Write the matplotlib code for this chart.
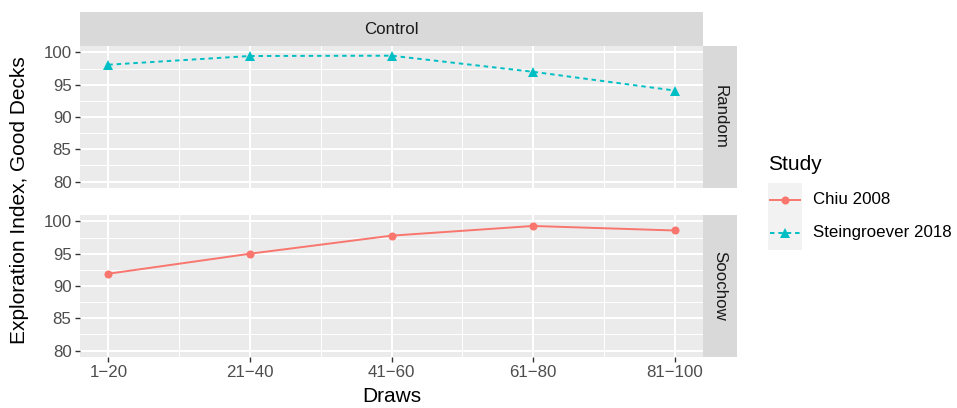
import matplotlib
matplotlib.use("Agg")
import matplotlib.pyplot as plt
from matplotlib.lines import Line2D
from matplotlib.patches import Rectangle
from matplotlib.ticker import FixedLocator

plt.rcParams['font.family'] = ['Liberation Sans', 'DejaVu Sans']

# ---- data ----
draw_labels = ["1\u221220", "21\u221240", "41\u221260", "61\u221280", "81\u2212100"]
draw_pos = [1, 2, 3, 4, 5]
steingroever_random = [98.1, 99.45, 99.5, 97.0, 94.1]
chiu_soochow = [91.9, 95.0, 97.8, 99.3, 98.6]
studies = ["Chiu 2008", "Steingroever 2018"]
rows = ["Random", "Soochow"]
col_title = "Control"
y_ticks = [80, 85, 90, 95, 100]

RED = "#F8766D"
CYAN = "#00BFC4"
SMALL = 12.2
BIG = 15.0
TRI_MS = 7.2
DOT_MS = 5.8

W, H = 957, 408
fig = plt.figure(figsize=(W / 100, H / 100), dpi=100)
fig.patch.set_facecolor("white")


def box(x0, y0, x1, y1):
    return [x0 / W, 1 - y1 / H, (x1 - x0) / W, (y1 - y0) / H]


PX0, PX1 = 80, 703
panels = [(46, 188), (215, 357)]
series = [
    (steingroever_random, CYAN, "^", (0, (2.3, 2.0))),
    (chiu_soochow, RED, "o", "-"),
]

for i, ((y0, y1), (vals, col, mk, ls)) in enumerate(zip(panels, series)):
    ax = fig.add_axes(box(PX0, y0, PX1, y1))
    ax.set_facecolor("#EBEBEB")
    ax.set_xlim(0.8, 5.2)
    ax.set_ylim(79, 101)
    ax.yaxis.set_major_locator(FixedLocator(y_ticks))
    ax.yaxis.set_minor_locator(FixedLocator([82.5, 87.5, 92.5, 97.5]))
    ax.xaxis.set_major_locator(FixedLocator(draw_pos))
    ax.xaxis.set_minor_locator(FixedLocator([1.5, 2.5, 3.5, 4.5]))
    ax.grid(which="major", color="white", lw=1.45)
    ax.grid(which="minor", color="white", lw=0.75)
    ax.set_axisbelow(True)
    for s in ax.spines.values():
        s.set_visible(False)
    ax.tick_params(axis="both", which="major", length=3.6, width=1.0,
                   color="#333333", labelcolor="#4D4D4D", labelsize=SMALL, pad=2.5)
    ax.tick_params(which="minor", length=0)
    ax.set_yticklabels([str(t) for t in y_ticks])
    if i == 0:
        ax.tick_params(axis="x", which="major", length=0, labelbottom=False)
    else:
        ax.set_xticklabels(draw_labels)
    ax.plot(draw_pos, vals, color=col, lw=1.4, ls=ls, marker=mk,
            markersize=TRI_MS if mk == "^" else DOT_MS, markeredgewidth=0, zorder=3)

    # right strip
    sax = fig.add_axes(box(703, y0, 737, y1))
    sax.set_facecolor("#D9D9D9")
    sax.set_xticks([]); sax.set_yticks([])
    for s in sax.spines.values():
        s.set_visible(False)
    sax.text(0.5, 0.5, rows[i], rotation=-90, ha="center", va="center",
             fontsize=SMALL, color="#1A1A1A", transform=sax.transAxes)

# top strip
tax = fig.add_axes(box(80, 12, 703, 46))
tax.set_facecolor("#D9D9D9")
tax.set_xticks([]); tax.set_yticks([])
for s in tax.spines.values():
    s.set_visible(False)
tax.text(0.5, 0.5, col_title, ha="center", va="center", fontsize=SMALL,
         color="#1A1A1A", transform=tax.transAxes)

# axis titles
fig.text(391.5 / W, 1 - 396 / H, "Draws", ha="center", va="center", fontsize=BIG, color="black")
fig.text(19.5 / W, 1 - 200.5 / H, "Exploration Index, Good Decks", rotation=90,
         ha="center", va="center", fontsize=BIG, color="black")

# legend (manual)
lax = fig.add_axes([0, 0, 1, 1])
lax.set_xlim(0, W); lax.set_ylim(H, 0)
lax.axis("off")
lax.text(768, 164, "Study", ha="left", va="center", fontsize=BIG, color="black")
key_y = [200, 233]
key_style = [(RED, "o", "-"), (CYAN, "^", (0, (2.3, 2.0)))]
for ky, (col, mk, ls), lab in zip(key_y, key_style, studies):
    lax.add_patch(Rectangle((767.5, ky - 17), 34.5, 34, facecolor="#F2F2F2", edgecolor="none"))
    lax.add_line(Line2D([770, 799.5], [ky, ky], color=col, lw=1.4, ls=ls))
    lax.plot([784.75], [ky], marker=mk, color=col,
             markersize=TRI_MS if mk == "^" else DOT_MS, markeredgewidth=0)
    lax.text(813, ky, lab, ha="left", va="center", fontsize=SMALL, color="black")

fig.savefig("out.png", dpi=100)
